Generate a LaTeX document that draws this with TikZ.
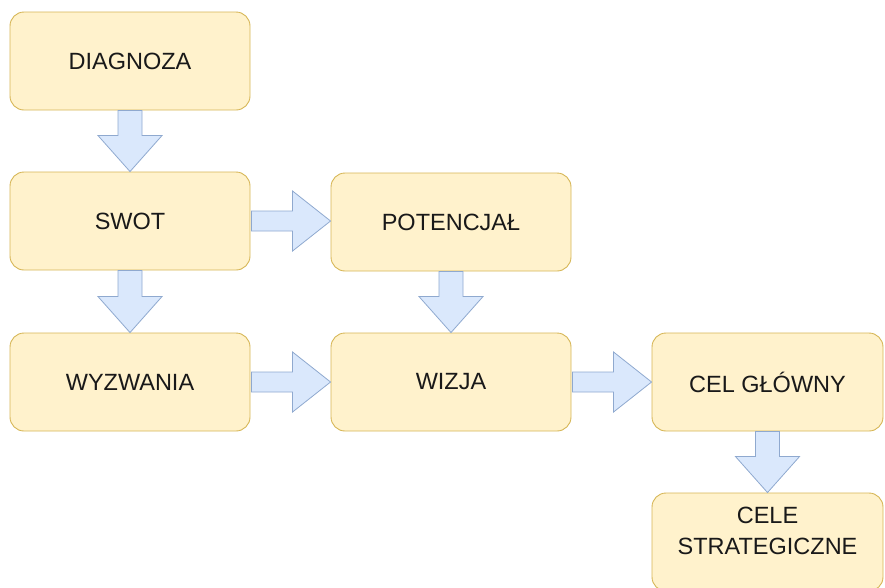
\documentclass[tikz,border=0pt]{standalone}
\usepackage{fontspec}
\setmainfont{Liberation Sans}
\usetikzlibrary{calc}
\definecolor{boxfill}{HTML}{FFF2CC}
\definecolor{boxline}{HTML}{D6B656}
\definecolor{arrfill}{HTML}{DAE8FC}
\definecolor{arrline}{HTML}{8FA9CF}
\tikzset{
  box/.style={draw=boxline, fill=boxfill, line width=0.9pt, rounded corners=14pt,
    minimum width=240pt, minimum height=98pt, inner sep=0pt,
    font=\fontsize{23.5}{31}\selectfont, text=black!90, align=center},
  boxtext/.style={inner sep=0pt, font=\fontsize{23.5}{31}\selectfont, text=black!90, align=center},
  blockarrow/.style={draw=arrline, fill=arrfill, line width=0.8pt, line join=miter},
}
\newcommand\blockdown[2]{%
  \draw[blockarrow] let \p1=(#1.south), \p2=(#2.north) in
    (\x1-12pt,\y1) -- (\x1-12pt,\y2+36pt) -- (\x1-32pt,\y2+36pt) -- (\x1,\y2)
    -- (\x1+32pt,\y2+36pt) -- (\x1+12pt,\y2+36pt) -- (\x1+12pt,\y1) -- cycle;}
\newcommand\blockright[2]{%
  \draw[blockarrow] let \p1=(#1.east), \p2=(#2.west) in
    (\x1+1pt,\y1-10pt) -- (\x2-38pt,\y1-10pt) -- (\x2-38pt,\y1-30pt) -- (\x2,\y1)
    -- (\x2-38pt,\y1+30pt) -- (\x2-38pt,\y1+10pt) -- (\x1+1pt,\y1+10pt) -- cycle;}
\begin{document}
\begin{tikzpicture}[x=1pt,y=-1pt]
\useasboundingbox (0,0) rectangle (885,587);
\node[box] (diag) at (130,61) {DIAGNOZA};
\node[box] (swot) at (130,221) {SWOT};
\node[box] (pot) at (451,222) {POTENCJAŁ};
\node[box] (wyz) at (130,382) {WYZWANIA};
\node[box] (wiz) at (451,382) {WIZJA};
\node[box, minimum width=231pt] (cel) at (767.5,382) {CEL GŁÓWNY};
\node[box, minimum width=231pt] (cele) at (767.5,542) {};
\node[boxtext] (celetxt) at (767.5,531) {CELE\\STRATEGICZNE};
\blockdown{diag}{swot}
\blockdown{swot}{wyz}
\blockdown{pot}{wiz}
\blockdown{cel}{cele}
\blockright{swot}{pot}
\blockright{wyz}{wiz}
\blockright{wiz}{cel}
\end{tikzpicture}
\end{document}
